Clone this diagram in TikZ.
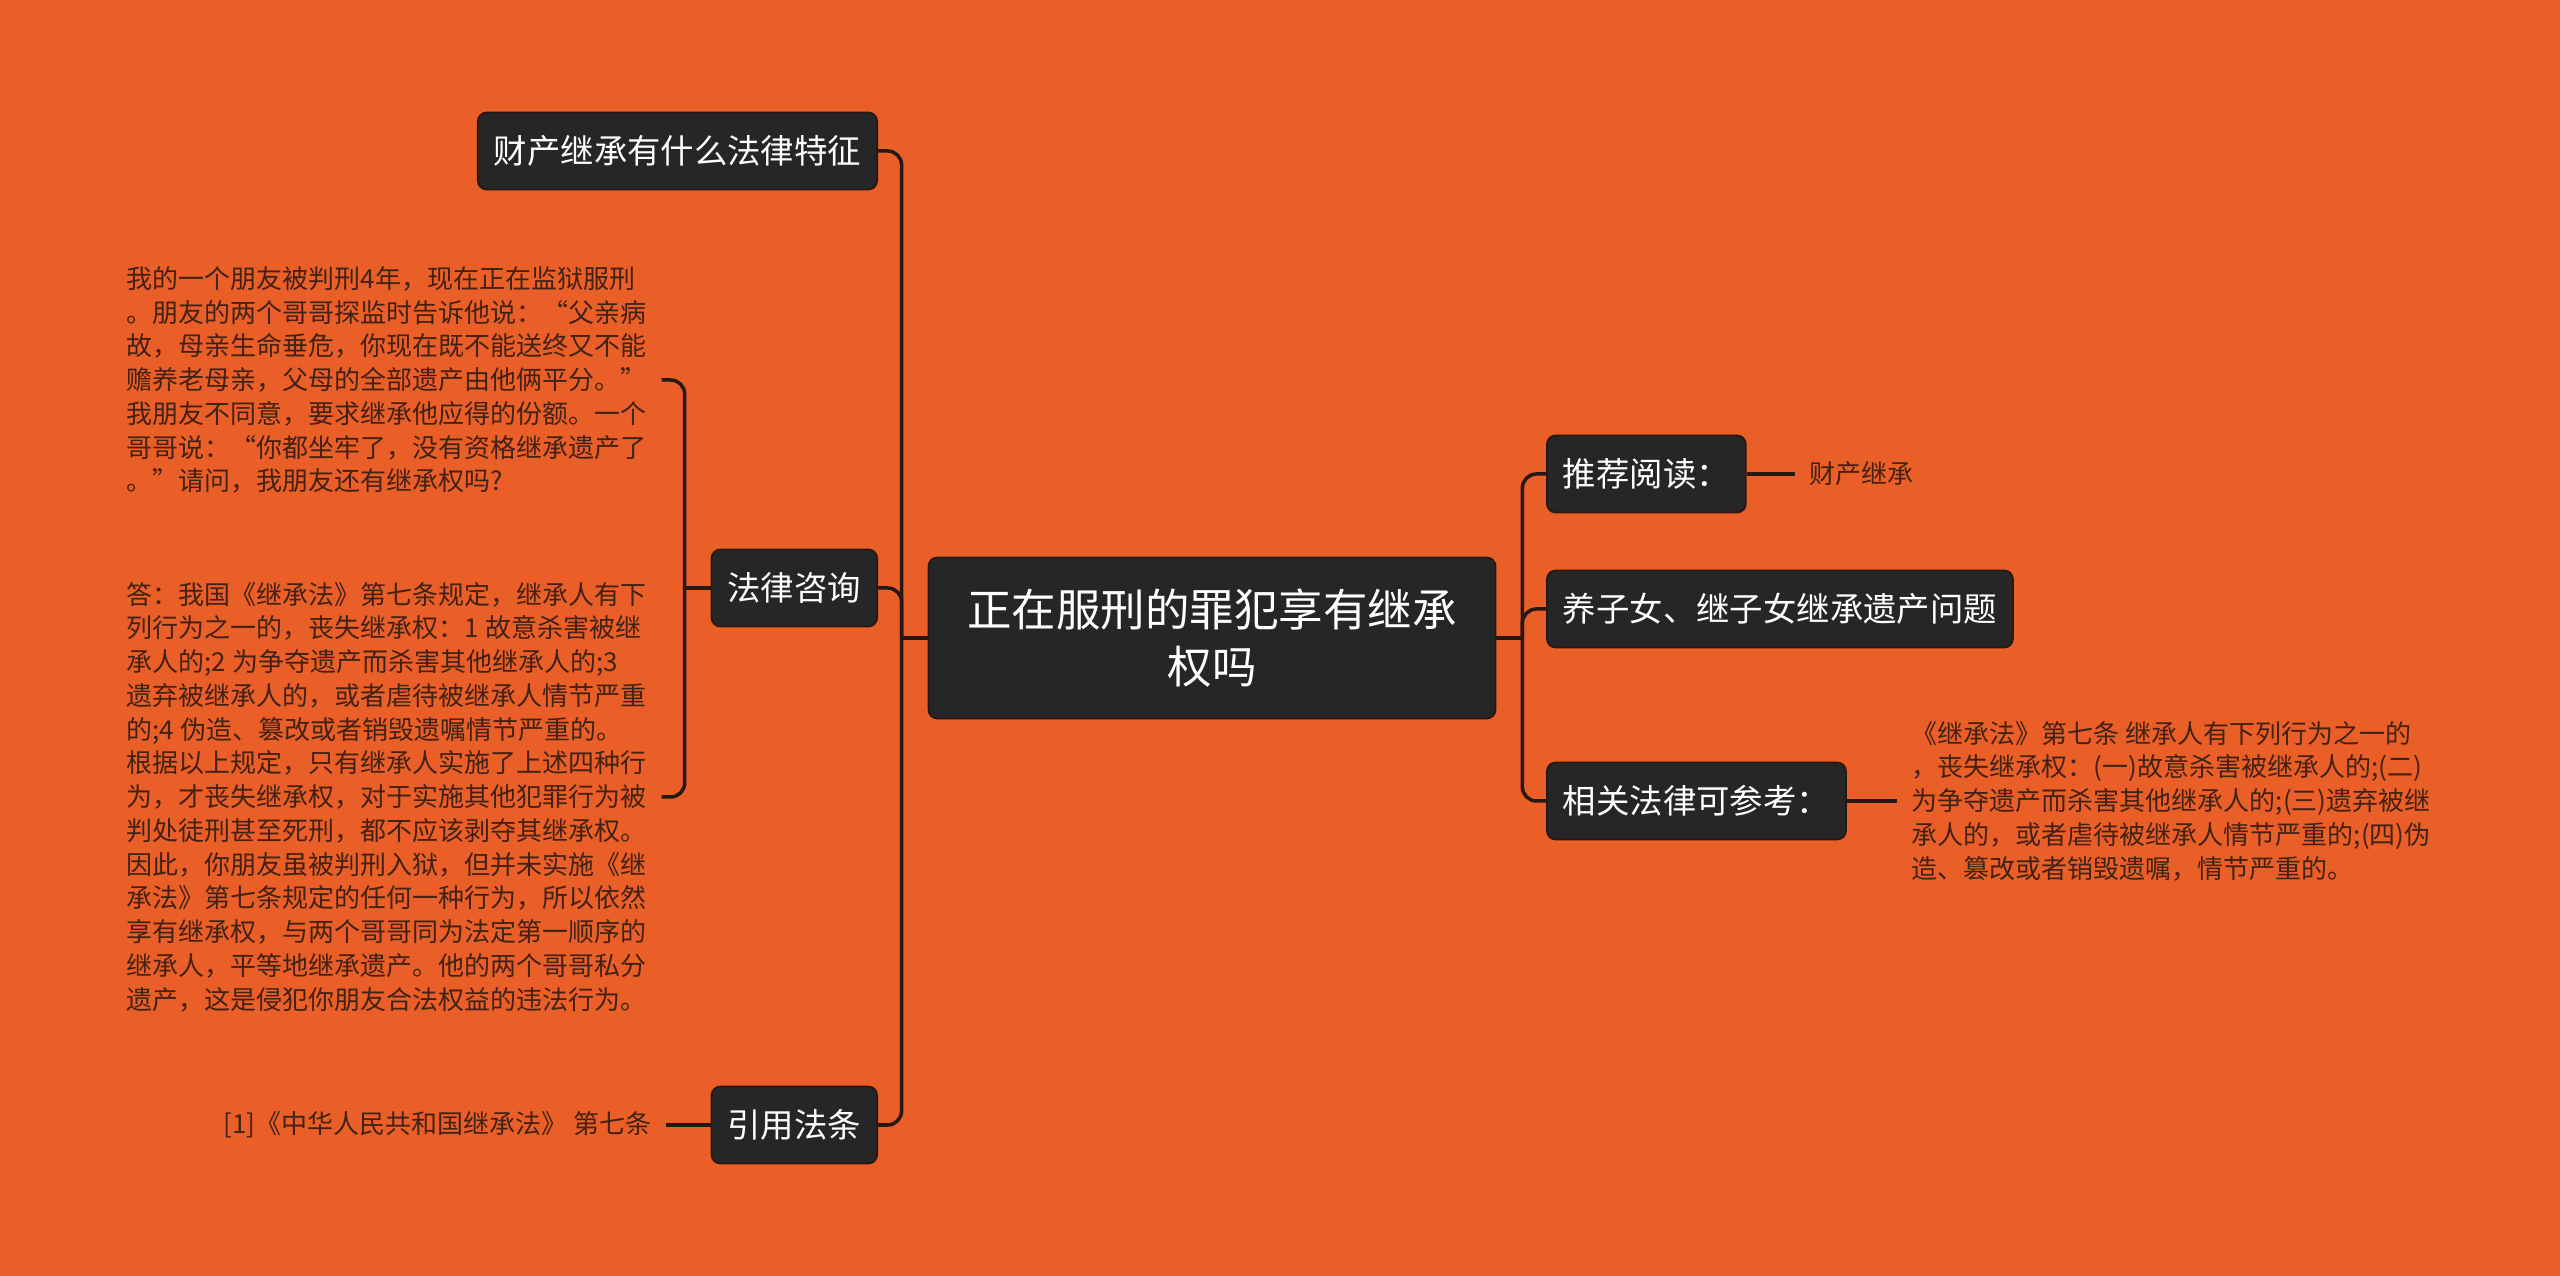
\documentclass[tikz,border=0pt]{standalone}
\usepackage{fontspec}
\setmainfont{Noto Sans CJK SC}
\definecolor{bg}{RGB}{234,94,40}
\definecolor{nodebg}{RGB}{38,38,38}
\definecolor{wire}{RGB}{40,24,18}
\definecolor{leaftxt}{RGB}{66,34,20}

\begin{document}
\begin{tikzpicture}[
  topic/.style={draw=wire,line width=0.5pt,fill=nodebg,rounded corners=2.5pt,text=white,
    font=\fontsize{9.5}{12}\selectfont,inner xsep=0.16cm,inner ysep=0pt,minimum height=0.77cm},
  leaf/.style={text=leaftxt,font=\fontsize{7.4}{9.6}\selectfont,align=left,inner xsep=0.14cm,inner ysep=0pt},
  conn/.style={draw=wire,line width=1pt},
  elbow/.style={conn,rounded corners=4pt}]
\fill[bg] (0,0) rectangle (25.6,12.76);
\node[topic,align=center,font=\fontsize{12.66}{16.2}\selectfont,minimum width=5.67cm,minimum height=1.61cm]
  (root) at (12.12,6.38) {正在服刑的罪犯享有继承\\权吗};
\node[topic,anchor=east] (tz) at (8.78,11.25) {财产继承有什么法律特征};
\node[topic,anchor=east] (zx) at (8.78,6.88) {法律咨询};
\node[topic,anchor=east] (yy) at (8.78,1.51) {引用法条};
\node[topic,anchor=west] (tj) at (15.46,8.02) {推荐阅读：};
\node[topic,anchor=west] (yz) at (15.46,6.67) {养子女、继子女继承遗产问题};
\node[topic,anchor=west] (xg) at (15.46,4.75) {相关法律可参考：};
\node[leaf,anchor=west] (q) at (1.12,8.96) {我的一个朋友被判刑4年，现在正在监狱服刑\\
。朋友的两个哥哥探监时告诉他说：“父亲病\\
故，母亲生命垂危，你现在既不能送终又不能\\
赡养老母亲，父母的全部遗产由他俩平分。”\\
我朋友不同意，要求继承他应得的份额。一个\\
哥哥说：“你都坐牢了，没有资格继承遗产了\\
。”请问，我朋友还有继承权吗?};
\node[leaf,anchor=west] (a) at (1.12,4.79) {答：我国《继承法》第七条规定，继承人有下\\
列行为之一的，丧失继承权：1 故意杀害被继\\
承人的;2 为争夺遗产而杀害其他继承人的;3\\
遗弃被继承人的，或者虐待被继承人情节严重\\
的;4 伪造、篡改或者销毁遗嘱情节严重的。\\
根据以上规定，只有继承人实施了上述四种行\\
为，才丧失继承权，对于实施其他犯罪行为被\\
判处徒刑甚至死刑，都不应该剥夺其继承权。\\
因此，你朋友虽被判刑入狱，但并未实施《继\\
承法》第七条规定的任何一种行为，所以依然\\
享有继承权，与两个哥哥同为法定第一顺序的\\
继承人，平等地继承遗产。他的两个哥哥私分\\
遗产，这是侵犯你朋友合法权益的违法行为。};
\node[leaf,anchor=east] (ref) at (6.66,1.51) {[1]《中华人民共和国继承法》 第七条};
\node[leaf,anchor=west] (rd) at (17.95,8.02) {财产继承};
\node[leaf,anchor=west] (law) at (18.97,4.75) {《继承法》第七条 继承人有下列行为之一的\\
，丧失继承权：(一)故意杀害被继承人的;(二)\\
为争夺遗产而杀害其他继承人的;(三)遗弃被继\\
承人的，或者虐待被继承人情节严重的;(四)伪\\
造、篡改或者销毁遗嘱，情节严重的。};
\draw[conn] (root.west) -- ++(-0.26,0) coordinate (ls);
\draw[elbow] (ls) |- (tz.east);
\draw[elbow] (ls) |- (zx.east);
\draw[elbow] (ls) |- (yy.east);
\draw[conn] (root.east) -- ++(0.26,0) coordinate (rs);
\draw[elbow] (rs) |- (tj.west);
\draw[elbow] (rs) |- (yz.west);
\draw[elbow] (rs) |- (xg.west);
\draw[conn] (zx.west) -- ++(-0.26,0) coordinate (zs);
\draw[elbow] (zs) |- (q.east);
\draw[elbow] (zs) |- (a.east);
\draw[conn] (yy.west) -- (ref.east);
\draw[conn] (tj.east) -- (rd.west);
\draw[conn] (xg.east) -- (law.west);
\end{tikzpicture}
\end{document}
